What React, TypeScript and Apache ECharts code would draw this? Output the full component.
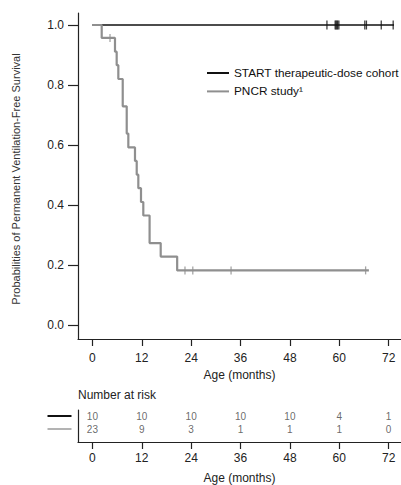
import React, { useEffect, useRef } from "react";
import * as echarts from "echarts";

const tickMonths = [0, 12, 24, 36, 48, 60, 72];
const yTicks = [0, 0.2, 0.4, 0.6, 0.8, 1.0];
const atRiskStart = [10, 10, 10, 10, 10, 4, 1];
const atRiskPncr = [23, 9, 3, 1, 1, 1, 0];

const startTimes = [0, 73.3];
const startSurv = [1, 1];
const startCensorTimes = [57.0, 59.0, 59.2, 59.4, 59.6, 59.9, 66.2, 66.6, 70.2, 73.1];

const pncrTimes = [0, 2.26, 5.49, 5.9, 6.3, 7.37, 8.34, 8.73, 10.35, 10.77, 11.16, 11.81, 12.37, 13.9, 16.6, 20.6, 67.2];
const pncrSurv = [1, 0.957, 0.911, 0.866, 0.82, 0.729, 0.638, 0.592, 0.547, 0.501, 0.456, 0.41, 0.365, 0.273, 0.228, 0.182, 0.182];
const pncrCensorTimes = [4.28, 22.5, 24.4, 33.7, 66.4];
const pncrCensorSurv = [0.957, 0.182, 0.182, 0.182, 0.182];

const START_NAME = "START therapeutic-dose cohort";
const PNCR_NAME = "PNCR study\u00b9";

const FONT = '"Liberation Sans", Arial, Helvetica, sans-serif';
const BLACK = "#111111";
const GRAY = "#8f8f8f";
const AXIS = "#222222";

export default function App() {
  const ref = useRef<HTMLDivElement>(null);

  useEffect(() => {
    document.body.style.margin = "0";
    if (!ref.current) return;
    const chart = echarts.init(ref.current, null, { renderer: "svg" });

    const xAxisCommon = (gridIndex: number, margin: number, nameGap: number) => ({
      type: "value",
      gridIndex,
      min: -3.5,
      max: 75,
      name: "Age (months)",
      nameLocation: "middle",
      nameGap,
      nameTextStyle: { fontSize: 12, color: AXIS, fontFamily: FONT },
      axisLine: { show: true, onZero: false, lineStyle: { color: AXIS, width: 1.2 } },
      axisTick: { show: true, length: 7, customValues: tickMonths, lineStyle: { color: AXIS, width: 1.2 } },
      axisLabel: { show: true, customValues: tickMonths, margin, fontSize: 12, color: AXIS, fontFamily: FONT },
      splitLine: { show: false },
    });

    const option: any = {
      animation: false,
      backgroundColor: "#ffffff",
      textStyle: { fontFamily: FONT },
      grid: [
        { left: 78, top: 13, right: 0, height: 326, containLabel: false, outerBoundsMode: "none" },
        { left: 78, top: 410, right: 0, height: 32, containLabel: false, outerBoundsMode: "none" },
      ],
      legend: {
        left: 202,
        top: 61,
        orient: "vertical",
        itemWidth: 22,
        itemHeight: 2,
        itemGap: 4.4,
        icon: "rect",
        textStyle: { fontSize: 11.8, color: BLACK, fontFamily: FONT, lineHeight: 14 },
        data: [START_NAME, PNCR_NAME],
      },
      xAxis: [xAxisCommon(0, 13, 30), xAxisCommon(1, 10, 30)],
      yAxis: [
        {
          type: "value",
          gridIndex: 0,
          min: -0.0467,
          max: 1.04,
          axisLine: { show: true, onZero: false, lineStyle: { color: AXIS, width: 1.2 } },
          axisTick: { show: true, length: 10, customValues: yTicks, lineStyle: { color: AXIS, width: 1.2 } },
          axisLabel: {
            show: true,
            customValues: yTicks,
            margin: 14,
            fontSize: 12,
            color: AXIS,
            fontFamily: FONT,
            formatter: (v: number) => v.toFixed(1),
          },
          splitLine: { show: false },
        },
        {
          type: "value",
          gridIndex: 1,
          min: 0,
          max: 32 / 13,
          axisLine: { show: true, onZero: false, lineStyle: { color: AXIS, width: 1.2 } },
          axisTick: { show: false },
          axisLabel: { show: false },
          splitLine: { show: false },
        },
      ],
      series: [
        {
          name: START_NAME,
          type: "line",
          xAxisIndex: 0,
          yAxisIndex: 0,
          step: "end",
          showSymbol: false,
          symbol: "none",
          z: 2,
          color: BLACK,
          lineStyle: { color: BLACK, width: 1.7 },
          data: startTimes.map((t, i) => [t, startSurv[i]]),
        },
        {
          name: PNCR_NAME,
          type: "line",
          xAxisIndex: 0,
          yAxisIndex: 0,
          step: "end",
          showSymbol: false,
          symbol: "none",
          z: 3,
          color: GRAY,
          lineStyle: { color: GRAY, width: 2.2 },
          data: pncrTimes.map((t, i) => [t, pncrSurv[i]]),
        },
        {
          name: "START censored",
          type: "scatter",
          xAxisIndex: 0,
          yAxisIndex: 0,
          symbol: "rect",
          symbolSize: [1.3, 9],
          z: 4,
          itemStyle: { color: BLACK },
          data: startCensorTimes.map((t) => [t, 1]),
        },
        {
          name: "PNCR censored",
          type: "scatter",
          xAxisIndex: 0,
          yAxisIndex: 0,
          symbol: "rect",
          symbolSize: [1.3, 8],
          z: 4,
          itemStyle: { color: GRAY },
          data: pncrCensorTimes.map((t, i) => [t, pncrCensorSurv[i]]),
        },
        {
          name: "At risk START",
          type: "scatter",
          xAxisIndex: 1,
          yAxisIndex: 1,
          symbolSize: 1,
          itemStyle: { color: "rgba(0,0,0,0)" },
          label: {
            show: true,
            position: "inside",
            fontSize: 10,
            color: "#444",
            fontFamily: FONT,
            formatter: (p: any) => String(p.value[2]),
          },
          data: tickMonths.map((m, i) => [m, 2, atRiskStart[i]]),
        },
        {
          name: "At risk PNCR",
          type: "scatter",
          xAxisIndex: 1,
          yAxisIndex: 1,
          symbolSize: 1,
          itemStyle: { color: "rgba(0,0,0,0)" },
          label: {
            show: true,
            position: "inside",
            fontSize: 10,
            color: "#444",
            fontFamily: FONT,
            formatter: (p: any) => String(p.value[2]),
          },
          data: tickMonths.map((m, i) => [m, 1, atRiskPncr[i]]),
        },
      ],
      graphic: [
        {
          type: "text",
          x: 16,
          y: 179,
          rotation: Math.PI / 2,
          style: {
            text: "Probabilities of Permanent Ventilation-Free Survival",
            fontSize: 11,
            fontFamily: FONT,
            fill: "#333",
            align: "center",
            verticalAlign: "middle",
          },
        },
        {
          type: "text",
          x: 78,
          y: 395,
          style: {
            text: "Number at risk",
            fontSize: 12,
            fontFamily: FONT,
            fill: AXIS,
            align: "left",
            verticalAlign: "middle",
          },
        },
        {
          type: "line",
          shape: { x1: 47.5, y1: 416, x2: 71.5, y2: 416 },
          style: { stroke: BLACK, lineWidth: 2 },
        },
        {
          type: "line",
          shape: { x1: 47.5, y1: 429, x2: 71.5, y2: 429 },
          style: { stroke: "#9a9a9a", lineWidth: 1.5 },
        },
      ],
    };

    chart.setOption(option);
    return () => chart.dispose();
  }, []);

  return <div ref={ref} style={{ width: 401, height: 485 }} />;
}
